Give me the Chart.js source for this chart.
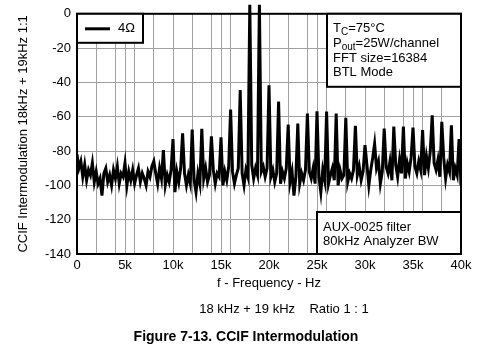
<!DOCTYPE html>
<html>
<head>
<meta charset="utf-8">
<script src="https://cdn.jsdelivr.net/npm/chart.js@4.4.1/dist/chart.umd.min.js"></script>
<style>
  html, body { margin: 0; padding: 0; background: #fff; }
  canvas { display: block; }
</style>
</head>
<body>
<canvas id="grafCcif" width="492" height="351"></canvas>
<script>
// noise floor, one value every 200 Hz from 0 to 40 kHz (dB)
const freqStep = 200
const noiseDb = [
  -82, -90, -86, -95, -88, -97, -91, -94, -87, -98,
  -92, -99, -96, -106, -93, -90, -98, -94, -100, -91,
  -96, -89, -99, -93, -95, -87, -100, -92, -97, -91,
  -99, -94, -90, -98, -93, -96, -100, -92, -95, -89,
  -97, -93, -99, -90, -96, -92, -100, -94, -98, -91,
  -95, -104, -92, -98, -90, -97, -93, -100, -94, -99,
  -91, -97, -104, -93, -99, -92, -96, -90, -98, -94,
  -97, -91, -99, -93, -95, -90, -100, -92, -97, -89,
  -96, -92, -99, -94, -90, -97, -93, -100, -91, -95,
  -93, -88, -96, -90, -94, -87, -92, -89, -95, -90,
  -88, -95, -91, -98, -93, -87, -99, -92, -96, -90,
  -94, -98, -92, -106, -95, -90, -99, -93, -97, -91,
  -98, -92, -96, -90, -99, -93, -95, -104, -91, -97,
  -92, -99, -94, -90, -97, -93, -100, -91, -96, -94,
  -90, -98, -93, -96, -91, -99, -94, -89, -97, -92,
  -96, -88, -100, -91, -84, -97, -90, -86, -99, -92,
  -95, -89, -93, -86, -97, -91, -88, -95, -85, -93,
  -90, -96, -87, -92, -84, -95, -89, -93, -86, -91,
  -88, -94, -83, -90, -80, -93, -87, -91, -85, -95,
  -89, -84, -96, -88, -92, -86, -97, -90, -94, -93, -100
]

// tones and intermodulation products (kHz, dB); the two tones run off the top
const spikeKhz = [8, 9, 10, 11, 12, 13, 14, 15, 16, 17, 18, 19, 20, 21, 22, 23, 24, 25, 26, 27, 28, 29, 30, 31, 32, 33, 34, 35, 36, 37, 38, 39, 39.8]
const spikeDb = [-86, -79.5, -73, -69.7, -67.5, -67, -71.4, -72, -55.8, -44.4, 6, 6, -41.7, -51.2, -64.6, -64, -58.2, -56.8, -57, -58.2, -60.6, -65.3, -76.6, -75.8, -66.9, -65.7, -65.7, -66.3, -67.8, -59.2, -63, -65, -73]

const xLabels = {0: '0', 5000: '5k', 10000: '10k', 15000: '15k', 20000: '20k', 25000: '25k', 30000: '30k', 35000: '35k', 40000: '40k'}
const yTicks = [0, -20, -40, -60, -80, -100, -120, -140]

const fuente = '"Liberation Sans", Arial, sans-serif'

let puntos = noiseDb.map((v, i) => ({x: i * freqStep, y: v}))
spikeKhz.forEach((k, j) => {
    let i = Math.round(k * 1000 / freqStep)
    puntos[i].y = spikeDb[j]
})

function texto(ctx, str, x, y, size, align, bold)
{
    ctx.font = (bold ? 'bold ' : '') + size + 'px ' + fuente
    ctx.textAlign = align || 'left'
    ctx.textBaseline = 'middle'
    ctx.fillText(str, x, y)
}

// base letter + subscript + rest of the line
function textoSub(ctx, base, sub, rest, x, y)
{
    ctx.textAlign = 'left'
    ctx.textBaseline = 'middle'
    ctx.font = '13px ' + fuente
    ctx.fillText(base, x, y)
    x += ctx.measureText(base).width
    ctx.font = '10px ' + fuente
    ctx.fillText(sub, x, y + 3)
    x += ctx.measureText(sub).width
    ctx.font = '13px ' + fuente
    ctx.fillText(rest, x, y)
}

const adornos = {
    id: 'adornos',
    afterDatasetsDraw(chart) {
        let ctx = chart.ctx
        let a = chart.chartArea
        ctx.save()
        ctx.fillStyle = '#000'
        ctx.strokeStyle = '#000'

        // frame
        ctx.lineWidth = 2
        ctx.strokeRect(a.left, a.top, a.right - a.left, a.bottom - a.top)

        // legend box
        ctx.fillStyle = '#fff'
        ctx.fillRect(a.left, a.top, 66, 29)
        ctx.strokeRect(a.left, a.top, 66, 29)
        ctx.lineWidth = 3
        ctx.beginPath()
        ctx.moveTo(a.left + 8, a.top + 15)
        ctx.lineTo(a.left + 33, a.top + 15)
        ctx.stroke()
        ctx.fillStyle = '#000'
        texto(ctx, '4Ω', a.left + 41, a.top + 15, 13)

        // conditions box
        ctx.lineWidth = 2
        ctx.fillStyle = '#fff'
        ctx.fillRect(a.right - 134, a.top, 134, 73)
        ctx.strokeRect(a.right - 134, a.top, 134, 73)
        ctx.fillStyle = '#000'
        textoSub(ctx, 'T', 'C', '=75°C', a.right - 128, a.top + 15)
        textoSub(ctx, 'P', 'out', '=25W/channel', a.right - 128, a.top + 30)
        texto(ctx, 'FFT size=16384', a.right - 128, a.top + 45, 13)
        texto(ctx, 'BTL Mode', a.right - 128, a.top + 59, 13)

        // filter box
        ctx.fillStyle = '#fff'
        ctx.fillRect(a.right - 144, a.bottom - 42, 144, 42)
        ctx.strokeRect(a.right - 144, a.bottom - 42, 144, 42)
        ctx.fillStyle = '#000'
        texto(ctx, 'AUX-0025 filter', a.right - 138, a.bottom - 27, 13)
        texto(ctx, '80kHz Analyzer BW', a.right - 138, a.bottom - 13, 13)

        // titles
        let cx = (a.left + a.right) / 2
        texto(ctx, 'f - Frequency - Hz', cx, 283, 13, 'center')
        texto(ctx, '18 kHz + 19 kHz    Ratio 1 : 1', 284, 309, 13, 'center')
        texto(ctx, 'Figure 7-13. CCIF Intermodulation', 246, 337, 14, 'center', true)

        ctx.translate(23, (a.top + a.bottom) / 2)
        ctx.rotate(-Math.PI / 2)
        texto(ctx, 'CCIF Intermodulation 18kHz + 19kHz 1:1', 0, 0, 13, 'center')
        ctx.restore()
    }
}

let grafCcif = document.getElementById('grafCcif')

let tablaCcif = new Chart(grafCcif, {
    type: 'line',
    plugins: [adornos],
    data: {
        datasets: [{
            label: '4Ω',
            data: puntos,
            borderColor: '#000',
            borderWidth: 3,
            borderJoinStyle: 'miter',
            pointRadius: 0,
            tension: 0,
            fill: false,
            clip: {left: 0, top: 9, right: 0, bottom: 0},
        }]
    },
    options: {
        responsive: false,
        devicePixelRatio: 1,
        animation: false,
        layout: {
            padding: {top: 9, right: 31, left: 0, bottom: 0},
        },
        plugins: {
            legend: {display: false},
            tooltip: {enabled: false},
        },
        scales: {
            x: {
                type: 'linear',
                min: 0,
                max: 40000,
                afterFit: s => { s.height = 97 },
                border: {display: false},
                grid: {
                    color: '#a0a0a0',
                    lineWidth: 1,
                    drawTicks: false,
                },
                ticks: {
                    stepSize: 1000,
                    autoSkip: false,
                    maxRotation: 0,
                    padding: 4,
                    color: '#000',
                    font: {family: fuente, size: 13},
                    callback: v => {
                        if (xLabels[v] !== undefined) return xLabels[v]
                        if (v % 2000 === 0) return ''
                        return null
                    },
                },
            },
            y: {
                min: -140,
                max: 0,
                afterFit: s => { s.width = 77 },
                afterBuildTicks: s => { s.ticks = yTicks.map(v => ({value: v})) },
                border: {display: false},
                grid: {
                    color: '#a0a0a0',
                    lineWidth: 1,
                    drawTicks: false,
                },
                ticks: {
                    padding: 6,
                    color: '#000',
                    font: {family: fuente, size: 13},
                },
            },
        },
    },
})
</script>
</body>
</html>
